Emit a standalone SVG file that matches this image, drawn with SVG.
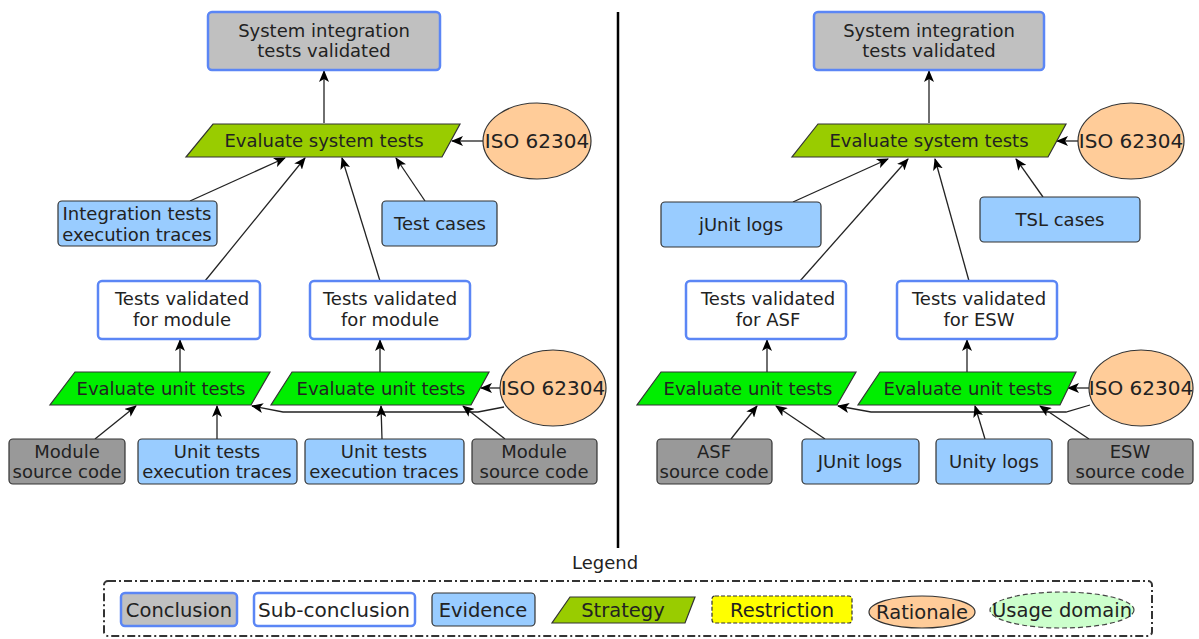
<svg xmlns="http://www.w3.org/2000/svg" width="1199" height="639" viewBox="0 0 1199 639">
<defs>
<marker id="arr" viewBox="0 0 12 10" refX="11" refY="5" markerWidth="12" markerHeight="10" markerUnits="userSpaceOnUse" orient="auto">
<path d="M0,0 L12,5 L0,10 L3,5 z" fill="#000"/>
</marker>
<style>
text{font-family:"DejaVu Sans","Verdana",sans-serif;font-size:18px;fill:#222;text-anchor:middle}
.big{font-size:20px}
.lg{font-size:19.5px}
.concl{fill:#c0c0c0;stroke:#5b86f5;stroke-width:2.5}
.sub{fill:#fff;stroke:#5b86f5;stroke-width:2.5}
.evid{fill:#99ccff;stroke:#333;stroke-width:1.2}
.src{fill:#999;stroke:#333;stroke-width:1.2}
.strat{fill:#99cc00;stroke:#333;stroke-width:1.2}
.ustrat{fill:#00ee00;stroke:#333;stroke-width:1.2}
.rat{fill:#ffcc99;stroke:#333;stroke-width:1.2}
.restr{fill:#ffff00;stroke:#333;stroke-width:1.2;stroke-dasharray:4,2}
.usage{fill:#ccffcc;stroke:#444;stroke-width:1.2;stroke-dasharray:5,3}
.c{fill:none;stroke:#222;stroke-width:1.3;marker-end:url(#arr)}
</style>
</defs>

<line x1="618" y1="12" x2="618" y2="548" stroke="#000" stroke-width="2.5"/>

<g id="connectors">
<line class="c" x1="324" y1="123" x2="324" y2="71"/>
<line class="c" x1="483" y1="141" x2="452" y2="141"/>
<line class="c" x1="190" y1="201" x2="285" y2="158"/>
<line class="c" x1="425" y1="201" x2="396" y2="158"/>
<line class="c" x1="205" y1="281" x2="305" y2="158"/>
<line class="c" x1="380" y1="281" x2="342" y2="158"/>
<line class="c" x1="180" y1="372" x2="180" y2="340"/>
<line class="c" x1="380" y1="372" x2="380" y2="340"/>
<line class="c" x1="500" y1="388" x2="481" y2="388"/>
<polyline class="c" points="504,407 478,412 283,412 252,406"/>
<line class="c" x1="95" y1="439" x2="136" y2="406"/>
<line class="c" x1="217" y1="439" x2="217" y2="406"/>
<line class="c" x1="382" y1="439" x2="381" y2="406"/>
<line class="c" x1="505" y1="439" x2="463" y2="406"/>

<line class="c" x1="929" y1="123" x2="929" y2="71"/>
<line class="c" x1="1079" y1="141" x2="1057" y2="141"/>
<line class="c" x1="793" y1="202" x2="888" y2="159"/>
<line class="c" x1="1043" y1="197" x2="1016" y2="159"/>
<line class="c" x1="800" y1="281" x2="908" y2="159"/>
<line class="c" x1="969" y1="281" x2="935" y2="159"/>
<line class="c" x1="767" y1="372" x2="767" y2="340"/>
<line class="c" x1="967" y1="372" x2="967" y2="340"/>
<line class="c" x1="1089" y1="388" x2="1068" y2="388"/>
<polyline class="c" points="1090,405 1066,412 871,412 838,406"/>
<line class="c" x1="731" y1="439" x2="757" y2="406"/>
<line class="c" x1="825" y1="439" x2="776" y2="406"/>
<line class="c" x1="985" y1="439" x2="975" y2="406"/>
<line class="c" x1="1089" y1="439" x2="1040" y2="406"/>
</g>

<!-- Left diagram -->
<g id="L_concl"><rect class="concl" x="208" y="12" width="232" height="58" rx="4"/><text x="324" y="37">System integration</text><text x="324" y="57">tests validated</text></g>
<g id="L_sysstrat"><polygon class="strat" points="213,124 460,124 442,157 186,157"/><text x="324" y="147">Evaluate system tests</text></g>
<g id="L_iso1"><ellipse class="rat" cx="537" cy="141" rx="54" ry="38"/><text class="big" x="537" y="148">ISO 62304</text></g>
<g id="L_integ"><rect class="evid" x="58" y="201" width="159" height="45" rx="4"/><text x="137" y="220">Integration tests</text><text x="137" y="241">execution traces</text></g>
<g id="L_testcases"><rect class="evid" x="382" y="201" width="115" height="45" rx="4"/><text x="440" y="230">Test cases</text></g>
<g id="L_sub1"><rect class="sub" x="98" y="281" width="162" height="58" rx="4"/><text x="182" y="305">Tests validated</text><text x="182" y="326">for module</text></g>
<g id="L_sub2"><rect class="sub" x="310" y="281" width="160" height="58" rx="4"/><text x="390" y="305">Tests validated</text><text x="390" y="326">for module</text></g>
<g id="L_unit1"><polygon class="ustrat" points="75,372 270,372 251,405 50,405"/><text x="161" y="395">Evaluate unit tests</text></g>
<g id="L_unit2"><polygon class="ustrat" points="292,372 489,372 471,405 271,405"/><text x="381" y="395">Evaluate unit tests</text></g>
<g id="L_iso2"><ellipse class="rat" cx="553" cy="388" rx="53" ry="38"/><text class="big" x="553" y="395">ISO 62304</text></g>
<g id="L_mod1"><rect class="src" x="9" y="439" width="116" height="45" rx="4"/><text x="67" y="458">Module</text><text x="67" y="478">source code</text></g>
<g id="L_ut1"><rect class="evid" x="138" y="439" width="159" height="45" rx="4"/><text x="217" y="458">Unit tests</text><text x="217" y="478">execution traces</text></g>
<g id="L_ut2"><rect class="evid" x="305" y="439" width="159" height="45" rx="4"/><text x="384" y="458">Unit tests</text><text x="384" y="478">execution traces</text></g>
<g id="L_mod2"><rect class="src" x="472" y="439" width="125" height="45" rx="4"/><text x="534" y="458">Module</text><text x="534" y="478">source code</text></g>

<!-- Right diagram -->
<g id="R_concl"><rect class="concl" x="814" y="12" width="230" height="58" rx="4"/><text x="929" y="37">System integration</text><text x="929" y="57">tests validated</text></g>
<g id="R_sysstrat"><polygon class="strat" points="818,124 1066,124 1048,157 792,157"/><text x="929" y="147">Evaluate system tests</text></g>
<g id="R_iso1"><ellipse class="rat" cx="1131" cy="141" rx="53" ry="38"/><text class="big" x="1131" y="148">ISO 62304</text></g>
<g id="R_junit1"><rect class="evid" x="661" y="202" width="160" height="45" rx="4"/><text x="741" y="231">jUnit logs</text></g>
<g id="R_tsl"><rect class="evid" x="980" y="197" width="160" height="45" rx="4"/><text x="1060" y="226">TSL cases</text></g>
<g id="R_sub1"><rect class="sub" x="686" y="281" width="160" height="58" rx="4"/><text x="768" y="305">Tests validated</text><text x="768" y="326">for ASF</text></g>
<g id="R_sub2"><rect class="sub" x="897" y="281" width="160" height="58" rx="4"/><text x="979" y="305">Tests validated</text><text x="979" y="326">for ESW</text></g>
<g id="R_unit1"><polygon class="ustrat" points="661,372 856,372 837,405 637,405"/><text x="748" y="395">Evaluate unit tests</text></g>
<g id="R_unit2"><polygon class="ustrat" points="880,372 1076,372 1060,405 858,405"/><text x="968" y="395">Evaluate unit tests</text></g>
<g id="R_iso2"><ellipse class="rat" cx="1141" cy="388" rx="52" ry="38"/><text class="big" x="1141" y="395">ISO 62304</text></g>
<g id="R_asf"><rect class="src" x="657" y="439" width="115" height="45" rx="4"/><text x="714" y="458">ASF</text><text x="714" y="478">source code</text></g>
<g id="R_junit2"><rect class="evid" x="802" y="439" width="117" height="45" rx="4"/><text x="860" y="468">JUnit logs</text></g>
<g id="R_unity"><rect class="evid" x="936" y="439" width="116" height="45" rx="4"/><text x="994" y="468">Unity logs</text></g>
<g id="R_esw"><rect class="src" x="1068" y="439" width="125" height="45" rx="4"/><text x="1130" y="458">ESW</text><text x="1130" y="478">source code</text></g>

<!-- Legend -->
<g id="legend">
<text x="605" y="569">Legend</text>
<rect x="104" y="581" width="1048" height="55" rx="4" fill="none" stroke="#333" stroke-width="2" stroke-dasharray="8,3,2,3"/>
<g id="leg_concl"><rect class="concl" x="121" y="593" width="116" height="33" rx="4"/><text class="lg" x="179" y="617">Conclusion</text></g>
<g id="leg_sub"><rect class="sub" x="254" y="593" width="161" height="33" rx="4"/><text class="lg" x="334" y="617" textLength="152" lengthAdjust="spacingAndGlyphs">Sub-conclusion</text></g>
<g id="leg_evid"><rect class="evid" x="432" y="593" width="103" height="33" rx="4"/><text class="lg" x="483" y="617">Evidence</text></g>
<g id="leg_strat"><polygon class="strat" points="570,597 695,597 685,623 552,623"/><text class="lg" x="623" y="617">Strategy</text></g>
<g id="leg_restr"><rect class="restr" x="712" y="596" width="140" height="27" rx="3"/><text class="lg" x="782" y="617">Restriction</text></g>
<g id="leg_rat"><ellipse class="rat" cx="922" cy="612" rx="53" ry="16"/><text class="lg" x="922" y="619">Rationale</text></g>
<g id="leg_usage"><ellipse class="usage" cx="1062" cy="610" rx="72" ry="18"/><text class="lg" x="1062" y="617">Usage domain</text></g>
</g>
</svg>
